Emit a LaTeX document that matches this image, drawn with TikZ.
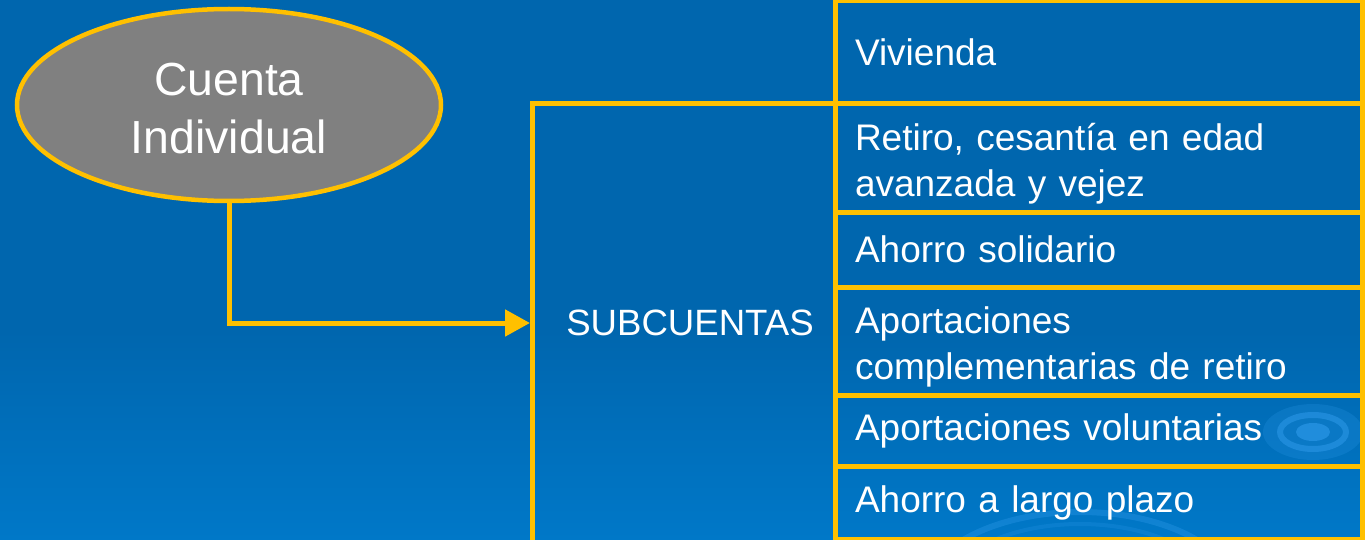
\documentclass[tikz,border=0pt]{standalone}
\usepackage{fontspec}
\setmainfont{Liberation Sans}
\usepackage{xcolor}
\usepackage{tikz}
\usetikzlibrary{shapes,arrows,positioning,calc,arrows.meta}
\definecolor{bgtop}{HTML}{0066AE}
\definecolor{bgbot}{HTML}{0078C8}
\definecolor{gold}{HTML}{FFC000}
\definecolor{ringblue}{HTML}{2A96E6}
\newcommand{\toplift}[1]{\rule{0pt}{#1}}

\begin{document}
\begin{tikzpicture}[x=0.5pt,y=-0.5pt,
    every node/.style={text=white},
    cuentanode/.style={ellipse, draw=gold, line width=2.25pt, fill=gray, minimum width=212pt, minimum height=96pt, inner sep=0pt, align=center, font=\fontsize{23.2}{29}\selectfont},
    subbox/.style={rectangle, draw=gold, line width=2.5pt, outer sep=0pt, minimum width=151.5pt, minimum height=228pt},
    rowbox/.style={rectangle, draw=gold, line width=2.5pt, outer sep=0pt, inner xsep=10pt, inner ysep=2pt, minimum width=263.5pt, text width=243.5pt, align=left, font=\fontsize{18.5}{23}\selectfont},
    conn/.style={draw=gold, line width=2.5pt, shorten >=1pt, -{Triangle[length=12.5pt,width=13pt]}}]

    \useasboundingbox (0,0) rectangle (1365,540);
    \clip (0,0) rectangle (1365,540);
    \fill[bgtop] (0,0) rectangle (1365,540);
    \shade[top color=bgtop, bottom color=bgbot] (0,330) rectangle (1365,540);

    \fill[ringblue, opacity=0.25] (1313,432) ellipse [x radius=50, y radius=28];
    \draw[ringblue, opacity=0.6, line width=3pt] (1313,432) ellipse [x radius=33, y radius=17];
    \fill[ringblue, opacity=0.7] (1313,432) ellipse [x radius=17, y radius=9];
    \draw[ringblue, opacity=0.4, line width=3pt] (1080,600) ellipse [x radius=160, y radius=88];
    \draw[ringblue, opacity=0.25, line width=2pt] (1080,600) ellipse [x radius=140, y radius=76];

    \node[cuentanode] (cuenta) at (229,105) {\toplift{19.7pt}Cuenta\\Individual};
    \node[subbox, anchor=north west] (sub) at (532,104) {};
    \node[font=\fontsize{18.3}{22}\selectfont] (subtxt) at (690,323) {SUBCUENTAS};

    \node[rowbox, anchor=north west, minimum height=51.5pt] (viv) at (835,1) {Vivienda};
    \node[rowbox, below=0pt of viv, minimum height=54pt] (ret) {\toplift{19pt}Retiro, cesantía en edad\\avanzada y vejez};
    \node[rowbox, below=0pt of ret, minimum height=37.5pt] (sol) {Ahorro solidario};
    \node[rowbox, below=0pt of sol, minimum height=54pt] (comp) {\toplift{19pt}Aportaciones\\complementarias de retiro};
    \node[rowbox, below=0pt of comp, minimum height=35.5pt] (vol) {Aportaciones voluntarias};
    \node[rowbox, below=0pt of vol, minimum height=36.5pt] (plazo) {Ahorro a largo plazo};

    \draw[conn] (cuenta.south) |- (sub.west |- subtxt);
\end{tikzpicture}
\end{document}
